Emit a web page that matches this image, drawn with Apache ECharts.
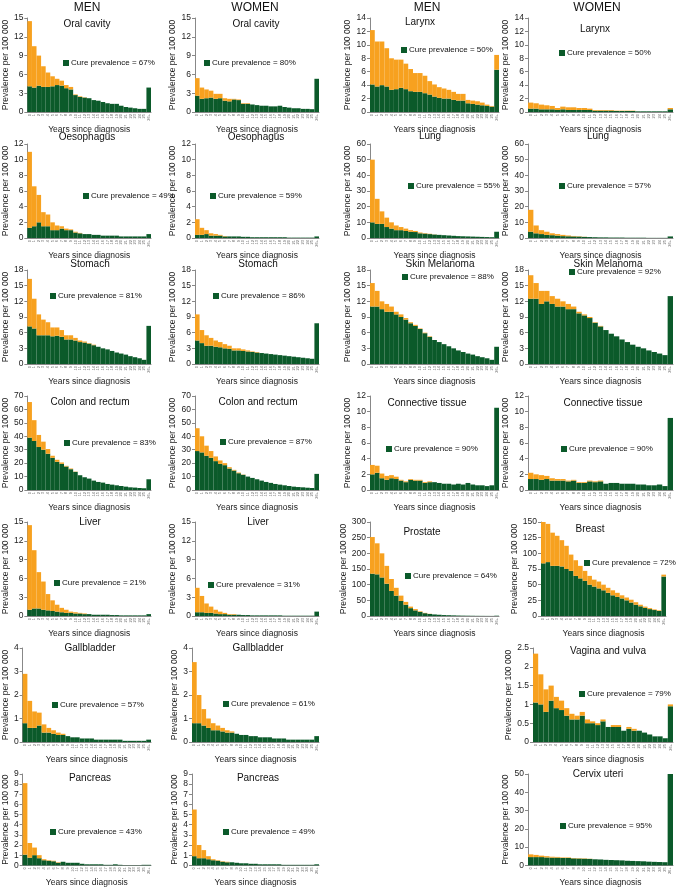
<!DOCTYPE html>
<html><head><meta charset="utf-8">
<script src="https://cdn.jsdelivr.net/npm/echarts@6/dist/echarts.min.js"></script>
<style>html,body{margin:0;padding:0;background:#fff}#c{width:676px;height:888px}</style>
</head><body><div id="c"></div>
<script>
const years = ['0','1','2','3','4','5','6','7','8','9','10','11','12','13','14','15','16','17','18','19','20','21','22','23','24','25','26+'];

const menOralCured = [4.1,3.9,4.2,4.0,4.0,4.1,4.3,4.2,3.8,3.6,2.7,2.4,2.3,2.2,1.9,1.8,1.6,1.4,1.3,1.3,1.0,0.8,0.7,0.6,0.5,0.5,3.9];
const menOralOther = [10.4,6.6,4.8,3.3,2.3,1.6,1.0,0.8,0.5,0.4,0.1,0.1,0.05,0,0,0,0,0,0,0,0,0,0,0,0,0,0];
const womenOralCured = [2.6,2.1,2.2,2.3,2.1,2.2,1.8,1.7,2.0,1.9,1.3,1.3,1.2,1.1,1.0,1.0,0.9,0.9,1.0,0.8,0.7,0.6,0.6,0.5,0.5,0.45,5.3];
const womenOralOther = [2.8,1.8,1.4,1.1,0.8,0.7,0.4,0.4,0.1,0.1,0.1,0.1,0,0,0,0,0,0,0,0,0,0,0,0,0,0,0];
const menLarynxCured = [4.1,3.8,4.0,3.8,3.3,3.4,3.6,3.4,3.1,3.0,3.0,2.8,2.6,2.3,2.1,2.0,2.0,1.8,1.7,1.7,1.3,1.2,1.1,1.0,0.9,0.8,6.3];
const menLarynxOther = [8.1,6.7,6.5,5.7,4.7,4.4,4.2,3.8,3.3,2.8,2.8,2.6,2.0,1.8,1.6,1.5,1.3,1.2,1.0,1.0,0.5,0.5,0.5,0.4,0.2,0.1,2.2];
const womenLarynxCured = [0.5,0.5,0.4,0.4,0.4,0.3,0.4,0.3,0.3,0.3,0.3,0.3,0.2,0.2,0.2,0.2,0.15,0.15,0.15,0.15,0.1,0.1,0.1,0.1,0.1,0.1,0.4];
const womenLarynxOther = [0.9,0.8,0.7,0.6,0.5,0.3,0.4,0.4,0.4,0.3,0.3,0.2,0.1,0.1,0.1,0.1,0.05,0.05,0.05,0.05,0,0,0,0,0,0,0.2];
const menOesoCured = [1.3,1.5,2.0,1.5,1.5,1.0,1.0,1.2,1.0,1.0,0.7,0.6,0.5,0.5,0.4,0.4,0.3,0.3,0.3,0.3,0.2,0.2,0.2,0.2,0.2,0.2,0.5];
const menOesoOther = [9.7,5.1,3.5,1.8,1.5,1.0,0.6,0.3,0.2,0.1,0.1,0.05,0,0,0,0,0,0,0,0,0,0,0,0,0,0,0];
const womenOesoCured = [0.4,0.4,0.5,0.3,0.3,0.3,0.2,0.2,0.2,0.2,0.15,0.15,0.1,0.1,0.1,0.1,0.1,0.1,0.1,0.1,0.05,0.05,0.05,0.05,0.05,0.05,0.2];
const womenOesoOther = [2.0,0.9,0.5,0.3,0.2,0.1,0.05,0,0,0,0,0,0,0,0,0,0,0,0,0,0,0,0,0,0,0,0];
const menLungCured = [10,9,9,7,6,5,5,4.5,4,3.8,3,2.8,2.5,2.2,2,1.8,1.6,1.4,1.2,1.1,1.0,0.9,0.8,0.7,0.6,0.5,4];
const menLungOther = [40,16,8,6,4,3,2,1.5,1,0.7,0.5,0.3,0.2,0.1,0,0,0,0,0,0,0,0,0,0,0,0,0];
const womenLungCured = [4,3,2.5,2,1.8,1.5,1.2,1.1,1,0.9,0.7,0.6,0.5,0.4,0.4,0.3,0.3,0.3,0.2,0.2,0.2,0.2,0.1,0.1,0.1,0.1,1];
const womenLungOther = [14,5,2.5,2,1.2,1,0.8,0.5,0.3,0.2,0.1,0,0,0,0,0,0,0,0,0,0,0,0,0,0,0,0];
const menStomachCured = [7.2,6.8,5.5,5.5,5.5,5.3,5.4,5.2,4.7,4.7,4.5,4.2,4.1,3.9,3.6,3.3,3.0,2.8,2.5,2.2,2.0,1.8,1.5,1.3,1.1,0.8,7.3];
const menStomachOther = [9.1,5.7,4.0,3.0,2.5,1.7,1.6,1.3,0.8,0.8,0.5,0.3,0.2,0.1,0.1,0,0,0,0,0,0,0,0,0,0,0,0];
const womenStomachCured = [4.5,4,3.5,3.5,3.3,3.2,3.0,2.9,2.6,2.6,2.5,2.4,2.3,2.2,2.1,2.0,1.9,1.8,1.7,1.6,1.5,1.4,1.3,1.2,1.1,1.0,7.8];
const womenStomachOther = [5,2.5,2,1.5,1.2,1.0,0.8,0.6,0.4,0.4,0.3,0.2,0.1,0.1,0,0,0,0,0,0,0,0,0,0,0,0,0];
const menSkinCured = [11,11,10.5,10,10,9.5,9,8.5,7.8,7.3,6.7,5.9,5.2,4.6,4.2,3.8,3.4,3.0,2.6,2.3,2.0,1.8,1.5,1.3,1.1,0.8,3.3];
const menSkinOther = [4.5,3,1.5,1.5,1,0.5,0.5,0.3,0.2,0.2,0.1,0.1,0.1,0,0,0,0,0,0,0,0,0,0,0,0,0,0];
const womenSkinCured = [12.5,12.5,11.5,12,11.5,11,11,10.5,10.5,9.7,9.3,8.8,7.9,7.2,6.5,5.8,5.3,4.7,4.2,3.7,3.3,3.0,2.6,2.3,2.0,1.7,13];
const womenSkinOther = [4.5,3,2.5,2,1.5,1.5,1,1,0.5,0.3,0.2,0.2,0.1,0.1,0,0,0,0,0,0,0,0,0,0,0,0,0];
const menColonCured = [39,36.5,32,30,27,24,21,19.5,17.5,15.5,13.5,11,9.5,8.5,7,6,5.5,4.5,4,3.5,3,2.5,2,1.8,1.5,1.3,8];
const menColonOther = [26.5,15.5,9,6,3.5,1.5,1.5,1,0.5,0.5,0.2,0,0,0,0,0,0,0,0,0,0,0,0,0,0,0,0];
const womenColonCured = [29,28,25.5,24,21.5,19.5,18.5,16,14.5,12.5,11.3,10,9,8,7,6,5.3,4.5,4,3.5,3,2.5,2.2,2,1.7,1.5,12];
const womenColonOther = [17,12,7.5,5,3.5,2.5,1.5,1,0.5,0.5,0.2,0,0,0,0,0,0,0,0,0,0,0,0,0,0,0,0];
const menConnCured = [2.0,2.2,1.5,1.3,1.5,1.4,1.2,1.0,1.3,1.2,1.2,0.9,1.0,1.0,0.9,0.8,0.8,0.7,0.8,0.7,0.9,0.7,0.6,0.6,0.5,0.6,10.5];
const menConnOther = [1.2,0.9,0.6,0.5,0.4,0.3,0.1,0.1,0.1,0.1,0.1,0.1,0.1,0,0,0,0,0,0,0,0,0,0,0,0,0,0];
const womenConnCured = [1.4,1.4,1.3,1.4,1.2,1.2,1.2,1.1,1.2,0.9,0.9,1.1,1.0,1.1,0.8,0.9,0.9,0.8,0.8,0.8,0.7,0.7,0.6,0.6,0.7,0.5,9.2];
const womenConnOther = [0.8,0.6,0.6,0.4,0.3,0.2,0.2,0.1,0.1,0.1,0.1,0.1,0.1,0.1,0,0,0,0,0,0,0,0,0,0,0,0,0];
const menLiverCured = [1.0,1.2,1.2,1.0,0.9,0.8,0.7,0.6,0.5,0.5,0.4,0.4,0.3,0.3,0.2,0.2,0.2,0.2,0.15,0.15,0.1,0.1,0.1,0.1,0.1,0.1,0.3];
const menLiverOther = [13.5,9.3,5.8,4.5,2.6,1.7,1.1,0.7,0.5,0.2,0.2,0.1,0.1,0,0,0,0,0,0,0,0,0,0,0,0,0,0];
const womenLiverCured = [0.6,0.6,0.5,0.5,0.4,0.3,0.3,0.2,0.2,0.2,0.15,0.15,0.1,0.1,0.1,0.1,0.1,0.1,0.1,0.05,0.05,0.05,0.05,0.05,0.05,0.05,0.7];
const womenLiverOther = [3.9,2.6,1.5,1.0,0.6,0.4,0.2,0.1,0.1,0,0,0,0,0,0,0,0,0,0,0,0,0,0,0,0,0,0];
const menProstateCured = [135,133,123,103,80,65,48,36,25,18,13,9,6.5,5,4,3,2.5,2,1.5,1.2,1,0.8,0.6,0.5,0.4,0.3,1];
const menProstateOther = [117,99,77,57,38,25,17,9,5,4,2,1,0.5,0,0,0,0,0,0,0,0,0,0,0,0,0,0];
const womenBreastCured = [84,86,80,80,79,75,72,64,60,56,50,47,44,41,37,33,30.5,28,25,21.5,18,15.5,13,11,9.5,8,63];
const womenBreastOther = [66,61,53,48,42,37,26,25,20,16,14,11,11,9,8,8,6.5,5,4.5,4.5,4,2.5,2,1.5,1,1,3];
const menGallCured = [0.8,0.6,0.6,0.7,0.4,0.4,0.35,0.3,0.3,0.25,0.2,0.2,0.15,0.15,0.15,0.1,0.1,0.1,0.1,0.1,0.1,0.05,0.05,0.05,0.05,0.05,0.1];
const menGallOther = [2.1,1.15,0.7,0.55,0.35,0.2,0.15,0.1,0.05,0,0,0,0,0,0,0,0,0,0,0,0,0,0,0,0,0,0];
const womenGallCured = [0.8,0.8,0.7,0.6,0.5,0.5,0.45,0.4,0.4,0.35,0.3,0.3,0.25,0.25,0.2,0.2,0.2,0.15,0.15,0.15,0.1,0.1,0.1,0.1,0.1,0.1,0.25];
const womenGallOther = [2.6,1.2,0.7,0.4,0.3,0.2,0.15,0.1,0.05,0,0,0,0,0,0,0,0,0,0,0,0,0,0,0,0,0,0];
const womenVaginaCured = [1.05,1.0,0.8,1.1,0.9,0.85,0.7,0.6,0.6,0.7,0.5,0.5,0.45,0.55,0.4,0.4,0.4,0.3,0.35,0.3,0.3,0.25,0.2,0.15,0.15,0.1,0.95];
const womenVaginaOther = [1.3,0.8,0.6,0.4,0.3,0.25,0.2,0.15,0.1,0.1,0.1,0.05,0.05,0.05,0,0.05,0.05,0,0.05,0.05,0,0,0,0,0,0,0.05];
const menPancCured = [1.05,0.75,1.0,0.7,0.5,0.45,0.4,0.25,0.35,0.25,0.25,0.25,0.15,0.1,0.1,0.1,0.1,0.05,0.05,0.1,0.05,0.02,0.02,0.02,0.02,0.05,0.05];
const menPancOther = [7.05,1.45,0.75,0.3,0.1,0.05,0.05,0.05,0,0,0,0,0,0,0,0,0,0,0,0,0,0,0,0,0,0,0];
const womenPancCured = [0.9,0.7,0.7,0.6,0.5,0.45,0.35,0.3,0.3,0.25,0.2,0.2,0.15,0.15,0.1,0.1,0.1,0.1,0.1,0.05,0.05,0.05,0.05,0.05,0.05,0.05,0.1];
const womenPancOther = [4.6,1.3,0.8,0.3,0.1,0.05,0.05,0.05,0,0,0,0,0,0,0,0,0,0,0,0,0,0,0,0,0,0,0];
const womenCervixCured = [4.5,4.5,4.5,4.3,4.2,4.2,4.0,4.0,3.8,3.7,3.6,3.5,3.3,3.2,3.0,2.9,2.8,2.7,2.5,2.4,2.3,2.2,2.0,1.9,1.8,1.7,52];
const womenCervixOther = [1.5,1.2,0.8,0.7,0.5,0.4,0.3,0.3,0.2,0.2,0.2,0.1,0,0,0,0,0,0,0,0,0,0,0,0,0,0,0];

const headers = ['MEN','WOMEN','MEN','WOMEN'];

// panel definitions: title, cure %, data, axis max/step, column, row
const panels = [
  ['Oral cavity','67%',menOralCured,menOralOther,15,3,0,0],
  ['Oral cavity','80%',womenOralCured,womenOralOther,15,3,1,0],
  ['Larynx','50%',menLarynxCured,menLarynxOther,14,2,2,0],
  ['Larynx','50%',womenLarynxCured,womenLarynxOther,14,2,3,0],
  ['Oesophagus','49%',menOesoCured,menOesoOther,12,2,0,1],
  ['Oesophagus','59%',womenOesoCured,womenOesoOther,12,2,1,1],
  ['Lung','55%',menLungCured,menLungOther,60,10,2,1],
  ['Lung','57%',womenLungCured,womenLungOther,60,10,3,1],
  ['Stomach','81%',menStomachCured,menStomachOther,18,3,0,2],
  ['Stomach','86%',womenStomachCured,womenStomachOther,18,3,1,2],
  ['Skin Melanoma','88%',menSkinCured,menSkinOther,18,3,2,2],
  ['Skin Melanoma','92%',womenSkinCured,womenSkinOther,18,3,3,2],
  ['Colon and rectum','83%',menColonCured,menColonOther,70,10,0,3],
  ['Colon and rectum','87%',womenColonCured,womenColonOther,70,10,1,3],
  ['Connective tissue','90%',menConnCured,menConnOther,12,2,2,3],
  ['Connective tissue','90%',womenConnCured,womenConnOther,12,2,3,3],
  ['Liver','21%',menLiverCured,menLiverOther,15,3,0,4],
  ['Liver','31%',womenLiverCured,womenLiverOther,15,3,1,4],
  ['Prostate','64%',menProstateCured,menProstateOther,300,50,2,4],
  ['Breast','72%',womenBreastCured,womenBreastOther,150,25,3,4],
  ['Gallbladder','57%',menGallCured,menGallOther,4,1,0,5],
  ['Gallbladder','61%',womenGallCured,womenGallOther,4,1,1,5],
  ['Vagina and vulva','79%',womenVaginaCured,womenVaginaOther,2.5,0.5,3,5],
  ['Pancreas','43%',menPancCured,menPancOther,9,1,0,6],
  ['Pancreas','49%',womenPancCured,womenPancOther,9,1,1,6],
  ['Cervix uteri','95%',womenCervixCured,womenCervixOther,50,10,3,6]
];

// layout (pixels): plot left/right per panel, title centre, legend square position
const colStart = [0,170,340,506];
const plotLR = [
  [25,151],[195,319],[370,499],[528,673],
  [25,151],[195,319],[370,499],[528,673],
  [25,151],[195,319],[370,499],[528,673],
  [25,151],[195,319],[370,499],[528,673],
  [25,151],[195,319],[370,499],[541,666],
  [22,151],[192,319],[533,673],
  [22,151],[192,319],[528,673]
];
const titlePos = [
  [87,24],[256,24],[420,22],[595,29],
  [87,137],[256,137],[430,136],[598,136],
  [90,264],[258,264],[440,264],[608,264],
  [90,402],[258,402],[427,403],[603,403],
  [90,522],[258,522],[422,532],[590,529],
  [90,648],[258,648],[608,651],
  [90,778],[258,778],[598,774]
];
const legendPos = [
  [66,63],[207,63],[404,50],[562,53],
  [86,196],[213,196],[411,186],[562,186],
  [53,296],[216,296],[405,277],[572,272],
  [67,443],[223,442],[389,449],[564,449],
  [57,583],[211,585],[408,576],[587,563],
  [55,705],[226,704],[582,694],
  [53,832],[226,832],[563,826]
];

const GREEN = '#0b5a2a', ORANGE = '#f7a11f';
const FONT = 'Liberation Sans, Arial, sans-serif';
const grids = [], xAxes = [], yAxes = [], series = [], graphics = [];

panels.forEach((p, i) => {
  const [title, cure, cured, other, yMax, step, col, row] = p;
  const [L, R] = plotLR[i];
  const top = 18 + 126 * row;
  grids.push({left: L, top: top, width: R - L, height: 94});
  xAxes.push({
    gridIndex: i, type: 'category', data: years,
    axisLine: {lineStyle: {color: '#888', width: 1}},
    axisTick: {show: false},
    axisLabel: {interval: 0, rotate: 90, fontSize: 4, color: '#666', margin: 2, fontFamily: FONT},
    name: 'Years since diagnosis', nameLocation: 'middle', nameGap: 2,
    nameTextStyle: {fontSize: 8.5, color: '#222', fontFamily: FONT}
  });
  yAxes.push({
    gridIndex: i, type: 'value', min: 0, max: yMax, interval: step,
    axisLine: {show: true, lineStyle: {color: '#888', width: 1}},
    axisTick: {show: true, length: 3, lineStyle: {color: '#888'}},
    splitLine: {show: false},
    axisLabel: {fontSize: 8.5, color: '#222', margin: 4, fontFamily: FONT},
    name: 'Prevalence per 100 000', nameLocation: 'middle', nameRotate: 90,
    nameGap: L - colStart[col] - 15,
    nameTextStyle: {fontSize: 8.5, color: '#222', fontFamily: FONT}
  });
  series.push({
    type: 'bar', name: 'Cured ' + i, stack: 's' + i, xAxisIndex: i, yAxisIndex: i,
    data: cured, barCategoryGap: '0%', itemStyle: {color: GREEN}, silent: true
  });
  series.push({
    type: 'bar', name: 'Not cured ' + i, stack: 's' + i, xAxisIndex: i, yAxisIndex: i,
    data: other, barCategoryGap: '0%', itemStyle: {color: ORANGE}, silent: true
  });
  const [tx, ty] = titlePos[i];
  graphics.push({type: 'text', z: 10,
    style: {text: title, x: tx, y: ty, textAlign: 'center', textVerticalAlign: 'middle',
      font: '10px ' + FONT, fill: '#111'}});
  const [lx, ly] = legendPos[i];
  graphics.push({type: 'rect', z: 10, shape: {x: lx - 3, y: ly - 3, width: 6, height: 6},
    style: {fill: GREEN}});
  graphics.push({type: 'text', z: 10,
    style: {text: 'Cure prevalence = ' + cure, x: lx + 5, y: ly, textAlign: 'left',
      textVerticalAlign: 'middle', font: '8px ' + FONT, fill: '#111'}});
});
const headerX = [87,255,427,597];
headers.forEach((h, i) => {
  graphics.push({type: 'text', style: {text: h, x: headerX[i], y: 8, textAlign: 'center',
    textVerticalAlign: 'middle', font: '12px ' + FONT, fill: '#111'}});
});

const chart = echarts.init(document.getElementById('c'), null, {renderer: 'canvas'});
chart.setOption({
  animation: false,
  backgroundColor: '#fff',
  grid: grids, xAxis: xAxes, yAxis: yAxes, series: series,
  graphic: graphics
});
</script></body></html>
